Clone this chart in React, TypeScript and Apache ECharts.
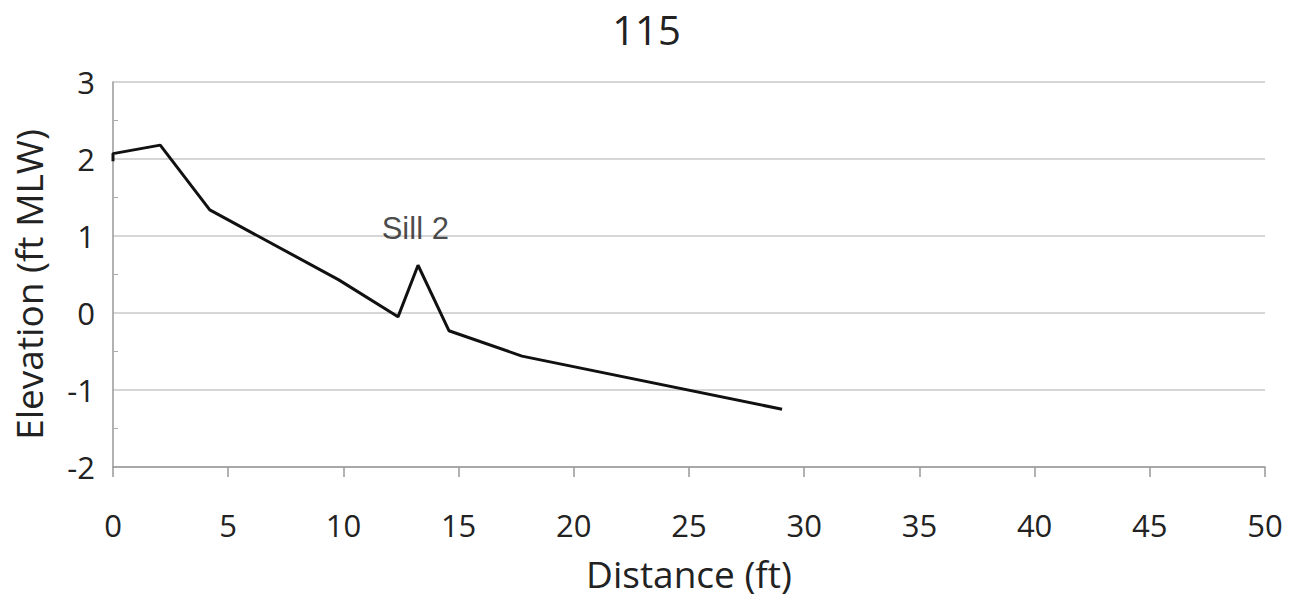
import React, { useEffect, useRef } from "react";
import * as echarts from "echarts";

const distance = [0, 0, 2.05, 4.2, 9.8, 12.37, 13.24, 14.58, 17.75, 29.04];
const elevation = [1.97, 2.07, 2.18, 1.34, 0.43, -0.05, 0.62, -0.23, -0.56, -1.25];
const titleText = "115";
const annotationText = ["Sill 2"];
const annotationX = [13.12];
const annotationY = [1.1];

export default function App() {
  const ref = useRef<HTMLDivElement>(null);
  useEffect(() => {
    if (!ref.current) return;
    const chart = echarts.init(ref.current, undefined, { renderer: "svg" });
    const font = "Open Sans";
    chart.setOption({
      animation: false,
      backgroundColor: "#ffffff",
      title: {
        text: titleText,
        left: "center",
        top: 4,
        textStyle: { fontFamily: font, fontSize: 40, fontWeight: "normal", color: "#222" },
      },
      grid: { left: 113, right: 28, top: 82, bottom: 136 },
      xAxis: {
        type: "value",
        min: 0,
        max: 50,
        interval: 5,
        name: "Distance (ft)",
        nameLocation: "middle",
        nameGap: 88,
        nameTextStyle: { fontFamily: font, fontSize: 37, color: "#222" },
        axisLine: { show: true, onZero: false, lineStyle: { color: "#999", width: 1.5 } },
        axisTick: { show: true, length: 10, lineStyle: { color: "#999", width: 1.5 } },
        axisLabel: { fontFamily: font, fontSize: 31, color: "#222", margin: 42 },
        splitLine: { show: false },
      },
      yAxis: {
        type: "value",
        min: -2,
        max: 3,
        interval: 1,
        name: "Elevation (ft MLW)",
        nameLocation: "middle",
        nameGap: 66,
        nameTextStyle: { fontFamily: font, fontSize: 37, color: "#222", padding: [0, 20, 0, 0] },
        axisLine: { show: true, onZero: false, lineStyle: { color: "#999", width: 1.5 } },
        axisTick: { show: false, inside: true },
        minorTick: { show: true, splitNumber: 2, length: 5, lineStyle: { color: "#aaa" } },
        axisLabel: { fontFamily: font, fontSize: 31, color: "#222", margin: 18 },
        splitLine: { show: true, lineStyle: { color: "#c8c8c8", width: 1.5 } },
      },
      series: [
        {
          type: "line",
          data: distance.map((d, i) => [d, elevation[i]]),
          showSymbol: false,
          symbol: "none",
          lineStyle: { color: "#111", width: 3 },
        },
        {
          type: "scatter",
          data: annotationX.map((x, i) => [x, annotationY[i]]),
          symbolSize: 2,
          itemStyle: { color: "rgba(255,255,255,0)" },
          label: {
            show: true,
            position: "inside",
            formatter: (p: any) => annotationText[p.dataIndex],
            fontFamily: "Liberation Sans",
            fontSize: 31,
            color: "#1a1a1a",
            textBorderWidth: 0,
          },
          silent: true,
        },
      ],
    });
    return () => chart.dispose();
  }, []);
  return <div ref={ref} style={{ width: 1293, height: 603, margin: -8 }} />;
}
